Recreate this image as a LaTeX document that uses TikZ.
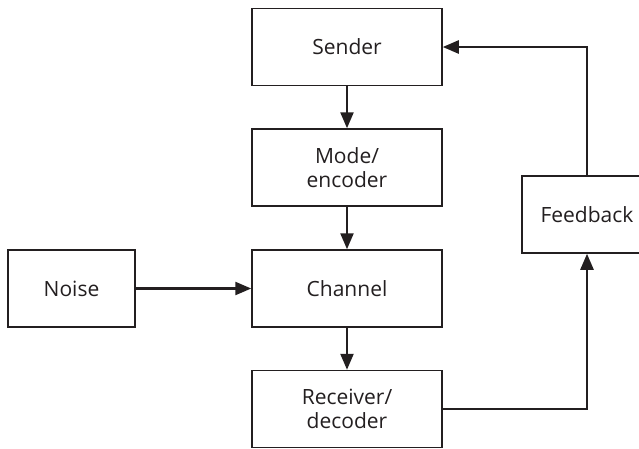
\documentclass[tikz,border=0pt]{standalone}
\usepackage{fontspec}
\setmainfont{Open Sans}
\usetikzlibrary{arrows.meta}
\definecolor{ink}{HTML}{231F20}
\begin{document}
\begin{tikzpicture}[x=1pt,y=-1pt,
  box/.style={draw=ink,line width=1.5pt,minimum width=190pt,minimum height=77pt,inner sep=0pt,
    align=center,text=ink,font=\fontsize{21}{24}\selectfont},
  conn/.style={draw=ink,line width=2.4pt,-{Triangle[length=16pt,width=13pt]}}]
\useasboundingbox (0,0) rectangle (639,448);
\clip (0,0) rectangle (639,448);
\fill[white] (0,0) rectangle (639,448);
\node[box] (sender) at (347,47) {Sender};
\node[box] (mode) at (347,167.5) {Mode/\\encoder};
\node[box] (channel) at (347,288.5) {Channel};
\node[box] (receiver) at (347,409) {Receiver/\\decoder};
\node[box,minimum width=127pt] (noise) at (71.5,288.5) {Noise};
\node[box,minimum width=130pt] (feedback) at (587,214.5) {Feedback};
\draw[conn] (sender) -- (mode);
\draw[conn] (mode) -- (channel);
\draw[conn] (channel) -- (receiver);
\draw[conn] (noise) -- (channel);
\draw[conn] (receiver.east) -| (feedback.south);
\draw[conn] (feedback.north) |- (sender.east);
\end{tikzpicture}
\end{document}
